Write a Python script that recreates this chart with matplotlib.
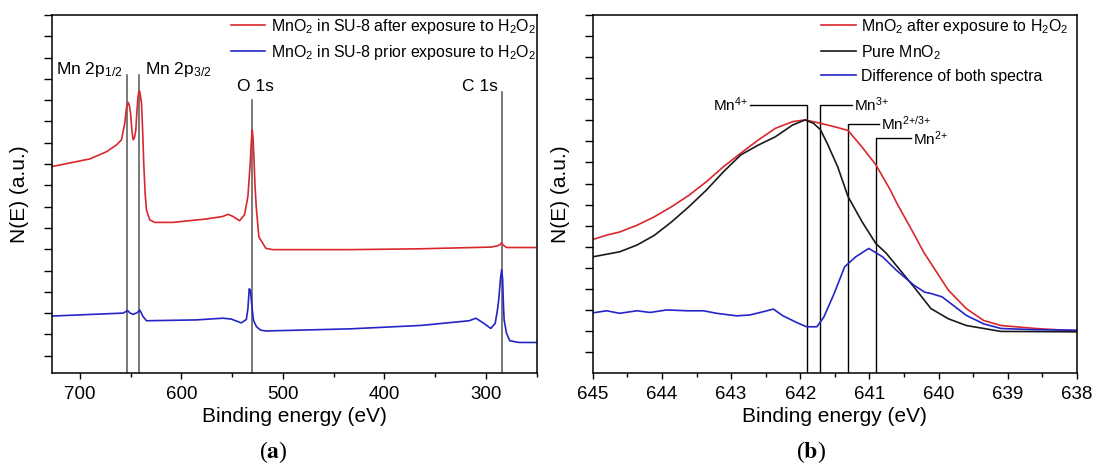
import matplotlib
matplotlib.use("Agg")
import matplotlib.pyplot as plt
from matplotlib.ticker import MultipleLocator, NullFormatter

plt.rcParams['font.family'] = ['Liberation Sans', 'DejaVu Sans']
plt.rcParams['mathtext.fontset'] = 'custom'
plt.rcParams['mathtext.rm'] = 'Liberation Sans'
plt.rcParams['mathtext.it'] = 'Liberation Sans:italic'
plt.rcParams['mathtext.bf'] = 'Liberation Sans:bold'

RED = '#d9272e'
BLUE = '#2424c8'

# ---------------- panel (a): survey spectra ----------------
survey_after_x = [729, 727.8, 690.2, 673.7, 663.9, 659.0, 655.8, 654.2, 652.5, 651.3, 650.1,
                  648.8, 647.6, 646.2, 644.9, 643.8, 642.7, 641.8, 641.0, 640.2, 639.3, 638.2,
                  637.1, 635.7, 634.4, 631.2, 626.3, 608.3, 575.4, 559.1, 554.2, 549.3, 542.7,
                  537.8, 534.5, 532.2, 531.2, 530.2, 529.4, 528.6, 527.5, 526.3, 523.7, 516.8,
                  510, 433.7, 364.4, 295, 288.4, 286, 284.6, 283.2, 279.7, 251]
survey_after_y = [4.43, 4.44, 4.62, 4.79, 4.95, 5.07, 5.46, 5.80, 5.95, 5.88, 5.70,
                  5.30, 5.07, 5.12, 5.30, 5.75, 6.09, 6.22, 6.20, 6.08, 5.93, 5.30,
                  4.52, 3.80, 3.42, 3.19, 3.13, 3.13, 3.21, 3.27, 3.32, 3.27, 3.17,
                  3.31, 3.74, 4.52, 5.00, 5.30, 5.10, 4.68, 4.00, 3.50, 2.79, 2.52,
                  2.49, 2.49, 2.51, 2.55, 2.58, 2.61, 2.65, 2.60, 2.54, 2.54]

survey_prior_x = [729, 727.8, 657.4, 655.0, 653.1, 650.5, 647.6, 643.5, 641.0, 639.4, 637.8,
                  634.4, 585.3, 559.1, 551, 541, 536, 534.5, 533.2, 532, 530.5, 529, 526,
                  522, 516.8, 433.7, 364, 316.5, 310.0, 303.4, 295.2, 290.9, 288.7, 287.5,
                  285.5, 284.5, 283.6, 282.8, 282.1, 279.8, 276.5, 267.4, 250]
survey_prior_y = [0.93, 0.93, 1.00, 1.03, 1.06, 1.00, 0.97, 1.01, 1.07, 1.00, 0.92,
                  0.82, 0.84, 0.88, 0.86, 0.77, 0.85, 1.10, 1.57, 1.54, 1.15, 0.83, 0.68,
                  0.60, 0.58, 0.63, 0.71, 0.82, 0.88, 0.78, 0.64, 0.76, 1.07, 1.30,
                  1.85, 2.02, 1.80, 1.20, 0.84, 0.53, 0.35, 0.31, 0.31]

survey_lines_x = [653.1, 642.0, 530.5, 284.3]
survey_lines_top = [6.59, 6.59, 6.0, 6.2]

# ---------------- panel (b): Mn 2p3/2 region ----------------
after_x = [645, 644.81, 644.61, 644.36, 644.11, 643.86, 643.61, 643.36, 643.11, 642.86,
           642.61, 642.36, 642.11, 641.93, 641.71, 641.51, 641.31, 641.11, 640.91, 640.7,
           640.61, 640.36, 640.22, 640.11, 639.86, 639.6, 639.35, 639.1, 638.6, 638]
after_y = [2.17, 2.27, 2.35, 2.51, 2.71, 2.95, 3.22, 3.54, 3.90, 4.22,
           4.53, 4.81, 4.97, 5.01, 4.93, 4.85, 4.76, 4.37, 3.95, 3.35,
           3.05, 2.31, 1.88, 1.60, 0.97, 0.53, 0.25, 0.13, 0.06, 0.00]

pure_x = [645, 644.61, 644.36, 644.11, 643.86, 643.61, 643.36, 643.11, 642.86, 642.61,
          642.36, 642.11, 641.93, 641.81, 641.71, 641.61, 641.46, 641.31, 641.11, 640.91,
          640.76, 640.61, 640.36, 640.11, 639.86, 639.6, 639.35, 639.1, 638]
pure_y = [1.76, 1.88, 2.04, 2.27, 2.59, 2.95, 3.34, 3.78, 4.18, 4.41,
          4.61, 4.89, 5.01, 4.93, 4.78, 4.45, 3.90, 3.19, 2.60, 2.08,
          1.85, 1.55, 1.05, 0.53, 0.29, 0.13, 0.06, -0.01, -0.02]

diff_x = [645, 644.80, 644.61, 644.36, 644.17, 643.93, 643.64, 643.40, 643.21, 643.02,
          642.92, 642.73, 642.53, 642.39, 642.25, 642.05, 641.91, 641.76, 641.66, 641.51,
          641.36, 641.2, 641.01, 640.81, 640.61, 640.36, 640.2, 640.11, 639.95, 639.6,
          639.35, 639.1, 638.6, 638]
diff_y = [0.43, 0.48, 0.42, 0.48, 0.44, 0.50, 0.48, 0.48, 0.42, 0.38,
          0.36, 0.38, 0.46, 0.52, 0.36, 0.20, 0.10, 0.10, 0.33, 0.89,
          1.52, 1.76, 1.96, 1.76, 1.44, 1.09, 0.92, 0.89, 0.81, 0.37,
          0.17, 0.06, 0.03, 0.02]

states = [r'Mn$^{\text{4+}}$', r'Mn$^{\text{3+}}$', r'Mn$^{\text{2+/3+}}$', r'Mn$^{\text{2+}}$']
state_x = [641.91, 641.71, 641.31, 640.91]
state_top = [5.36, 5.36, 4.91, 4.57]
state_end = [642.72, 641.25, 640.86, 640.40]

fig = plt.figure(figsize=(10.94, 4.66), dpi=100)
axa = fig.add_axes([0.0475, 0.2002, 0.4431, 0.7676])
axb = fig.add_axes([0.5418, 0.2002, 0.4427, 0.7676])

for ax in (axa, axb):
    for s in ax.spines.values():
        s.set_linewidth(1.1)
    ax.tick_params(axis='both', which='both', direction='out', width=1.0)
    ax.tick_params(axis='x', which='major', length=4.5, labelsize=13.5, pad=5)
    ax.tick_params(axis='x', which='minor', length=3)
    ax.tick_params(axis='y', which='major', length=6)
    ax.yaxis.set_major_locator(MultipleLocator(0.5))
    ax.yaxis.set_major_formatter(NullFormatter())

# panel (a)
axa.plot(survey_after_x, survey_after_y, color=RED, lw=1.2,
         label=r'MnO$_2$ in SU-8 after exposure to H$_2$O$_2$')
axa.plot(survey_prior_x, survey_prior_y, color=BLUE, lw=1.2,
         label=r'MnO$_2$ in SU-8 prior exposure to H$_2$O$_2$')
for xv, top in zip(survey_lines_x, survey_lines_top):
    axa.plot([xv, xv], [-0.4, top], color='#555555', lw=1.1, zorder=1)
axa.text(657.5, 6.61, r'Mn 2p$_{1/2}$', fontsize=12.5, ha='right', va='baseline')
axa.text(635.5, 6.61, r'Mn 2p$_{3/2}$', fontsize=12.5, ha='left', va='baseline')
axa.text(527.2, 6.22, 'O 1s', fontsize=12.5, ha='center', va='baseline')
axa.text(288.2, 6.22, 'C 1s', fontsize=12.5, ha='right', va='baseline')
axa.set_xlim(727.5, 250)
axa.set_ylim(-0.4, 8.0)
axa.xaxis.set_major_locator(MultipleLocator(100))
axa.xaxis.set_minor_locator(MultipleLocator(50))
axa.set_xlabel('Binding energy (eV)', fontsize=15, labelpad=3)
axa.set_ylabel('N(E) (a.u.)', fontsize=15, labelpad=7)
axa.legend(loc='upper left', bbox_to_anchor=(0.3685, 0.995), frameon=False, fontsize=11.4,
           handlelength=2.2, handletextpad=0.35, borderaxespad=0, borderpad=0,
           labelspacing=0.45)

# panel (b)
axb.plot(after_x, after_y, color=RED, lw=1.2, label=r'MnO$_2$ after exposure to H$_2$O$_2$')
axb.plot(pure_x, pure_y, color='#1a1a1a', lw=1.2, label=r'Pure MnO$_2$')
axb.plot(diff_x, diff_y, color=BLUE, lw=1.2, label='Difference of both spectra')
for name, xv, top, xe in zip(states, state_x, state_top, state_end):
    axb.plot([xv, xv, xe], [-0.99, top, top], color='black', lw=1.0, zorder=1)
    if xe > xv:
        axb.text(xe + 0.03, top, name, fontsize=11, ha='right', va='center')
    else:
        axb.text(xe - 0.03, top, name, fontsize=11, ha='left', va='center')
axb.set_xlim(645, 638)
axb.set_ylim(-0.99, 7.5)
axb.xaxis.set_major_locator(MultipleLocator(1))
axb.xaxis.set_minor_locator(MultipleLocator(0.5))
axb.set_xlabel('Binding energy (eV)', fontsize=15, labelpad=3)
axb.set_ylabel('N(E) (a.u.)', fontsize=15, labelpad=7)
axb.legend(loc='upper left', bbox_to_anchor=(0.4714, 0.995), frameon=False, fontsize=11.4,
           handlelength=2.2, handletextpad=0.35, borderaxespad=0, borderpad=0,
           labelspacing=0.45)

fig.text(0.2495, 0.030, r'($\mathbf{a}$)', fontsize=17, family='Liberation Serif',
         math_fontfamily='stix', ha='center', va='center')
fig.text(0.7413, 0.030, r'($\mathbf{b}$)', fontsize=17, family='Liberation Serif',
         math_fontfamily='stix', ha='center', va='center')

fig.savefig('out.png', dpi=100)
